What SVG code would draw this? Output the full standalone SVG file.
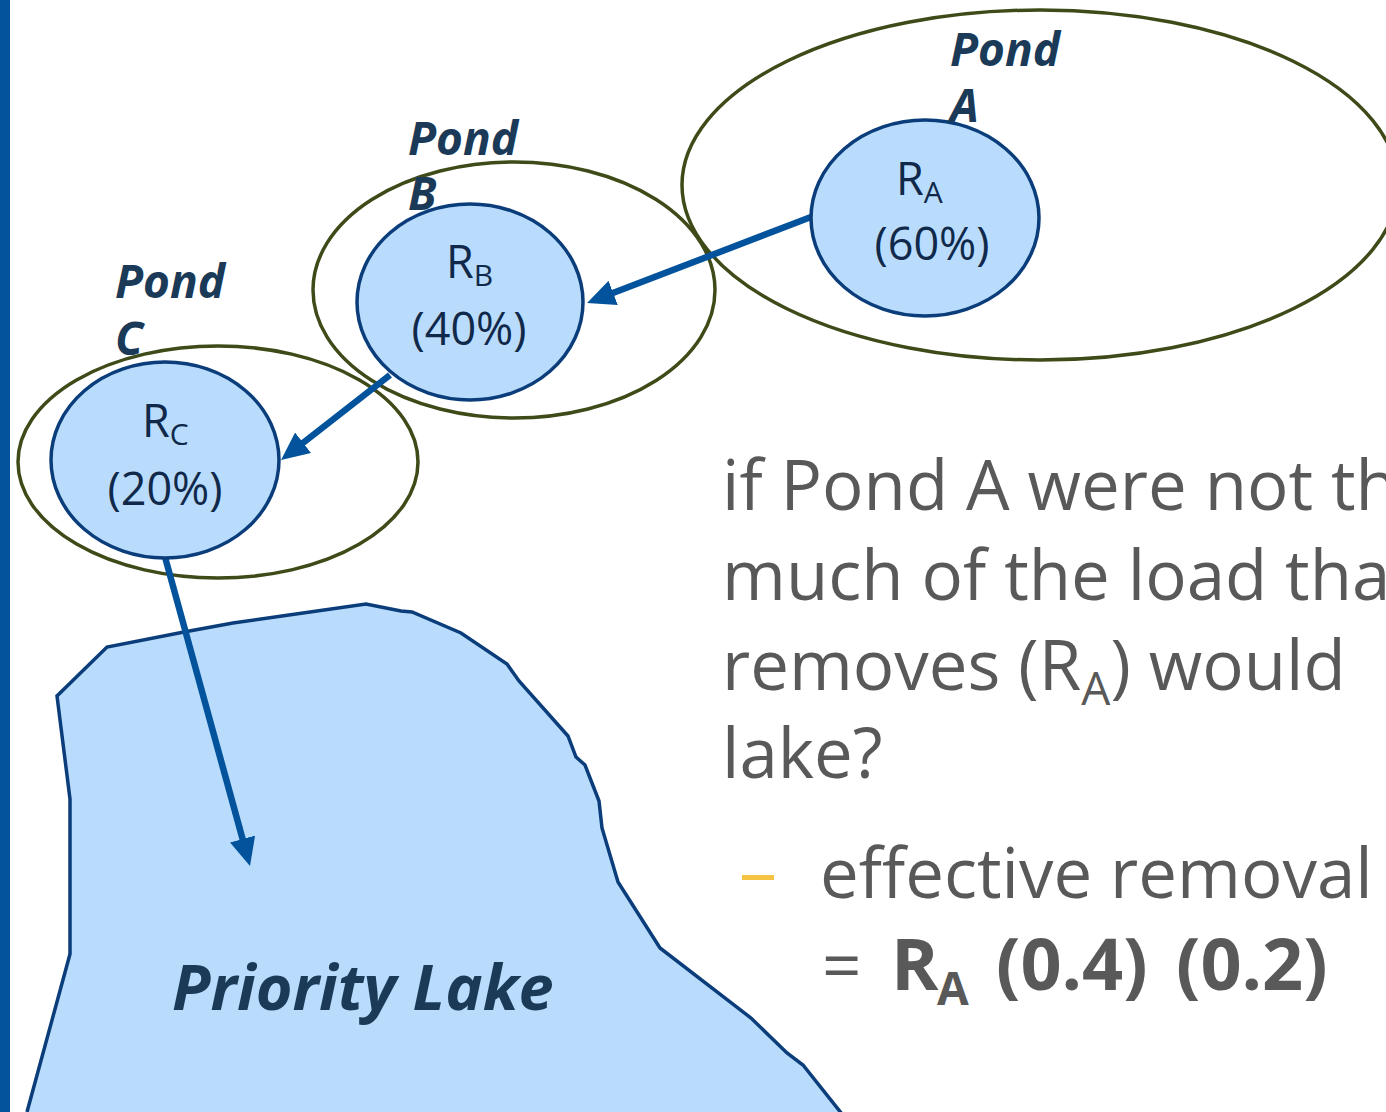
<svg xmlns="http://www.w3.org/2000/svg" width="1386" height="1112" viewBox="0 0 1386 1112">
  <style>
    .pond { fill: none; stroke: #3e4a18; stroke-width: 3.5; }
    .basin { fill: #b9dcfd; stroke: #0a3d7a; stroke-width: 3.5; }
    .basin-text { font-family: "Open Sans", "Noto Sans", sans-serif; font-size: 45px; fill: #10294a; }
    .sub { font-size: 30px; }
    .pond-label { font-family: "Open Sans", "Noto Sans", sans-serif; font-size: 46px; font-weight: 700; font-style: italic; fill: #1a3a58; }
    .flow { fill: none; stroke: #02529c; stroke-width: 6.5; marker-end: url(#head); }
    .body { font-family: "Open Sans", "Noto Sans", sans-serif; font-size: 69px; fill: #595959; }
    .body-sub { font-size: 46px; }
    .strong { font-weight: 700; font-size: 72px; }
  </style>
  <defs>
    <marker id="head" markerUnits="userSpaceOnUse" viewBox="0 0 28 26" markerWidth="28" markerHeight="26" refX="8" refY="13" orient="auto">
      <path d="M0,0 L28,13 L0,26 z" fill="#02529c"/>
    </marker>
  </defs>

  <!-- slide accent bar -->
  <rect x="0" y="0" width="10" height="1112" fill="#02529c"/>

  <!-- receiving lake -->
  <g id="priority-lake">
    <path class="basin" d="M27,1112 L70,954 L70,799 L57,696 L107,647 L184,632 L233,623 L282,616 L366,604 L401,611 L412,612 L461,633 L507,664 L519,681 L568,736 L576,757 L585,765 L599,801 L602,828 L618,882 L660,948 L751,1018 L787,1053 L803,1065 L842,1114"/>
    <text x="172" y="1010" font-family="Open Sans, Noto Sans, sans-serif" font-size="63" font-weight="700" font-style="italic" fill="#1a3a58">Priority Lake</text>
  </g>

  <!-- pond drainage areas -->
  <g id="pond-a-area"><ellipse class="pond" cx="1040" cy="185" rx="358" ry="175"/></g>
  <g id="pond-b-area"><ellipse class="pond" cx="514" cy="290" rx="201" ry="128"/></g>
  <g id="pond-c-area"><ellipse class="pond" cx="218" cy="462" rx="200" ry="116"/></g>

  <!-- flow path between ponds -->
  <g id="connectors">
    <line class="flow" x1="811" y1="217" x2="605.7" y2="295.8"/>
    <line class="flow" x1="390" y1="375" x2="296.8" y2="447.7"/>
    <line class="flow" x1="165" y1="557" x2="244.7" y2="846.7"/>
  </g>

  <!-- pond removal nodes -->
  <g id="pond-a">
    <ellipse class="basin" cx="925" cy="218" rx="114" ry="98"/>
    <text class="basin-text" x="896" y="195">R<tspan class="sub" dy="8">A</tspan></text>
    <text class="basin-text" x="932" y="260" text-anchor="middle">(60%)</text>
  </g>
  <g id="pond-b">
    <ellipse class="basin" cx="470" cy="302" rx="113" ry="98"/>
    <text class="basin-text" x="446" y="278">R<tspan class="sub" dy="8">B</tspan></text>
    <text class="basin-text" x="469" y="345" text-anchor="middle">(40%)</text>
  </g>
  <g id="pond-c">
    <ellipse class="basin" cx="165" cy="460" rx="114" ry="98"/>
    <text class="basin-text" x="142" y="437">R<tspan class="sub" dy="8">C</tspan></text>
    <text class="basin-text" x="165" y="505" text-anchor="middle">(20%)</text>
  </g>

  <!-- pond names -->
  <g id="pond-labels">
    <text class="pond-label" x="950" y="66">Pond</text>
    <text class="pond-label" x="950" y="122">A</text>
    <text class="pond-label" x="408" y="155">Pond</text>
    <text class="pond-label" x="408" y="210">B</text>
    <text class="pond-label" x="115" y="298">Pond</text>
    <text class="pond-label" x="115" y="355">C</text>
  </g>

  <!-- question text -->
  <g id="question">
    <text class="body" x="722" y="510">if Pond A were not th</text>
    <text class="body" x="722" y="600">much of the load tha</text>
    <text class="body" x="722" y="690">removes (R<tspan class="body-sub" dy="15">A</tspan><tspan dy="-15">) would</tspan></text>
    <text class="body" x="722" y="778">lake?</text>
    <rect x="742" y="875" width="32" height="5" fill="#f5c242"/>
    <text class="body" x="820" y="898">effective removal</text>
    <text class="body" x="822" y="990">=</text>
    <text class="body strong" x="891" y="990">R<tspan class="body-sub" x="937" dy="15">A</tspan><tspan x="996" dy="-15">(0.4)</tspan><tspan x="1176">(0.2)</tspan></text>
  </g>
</svg>
